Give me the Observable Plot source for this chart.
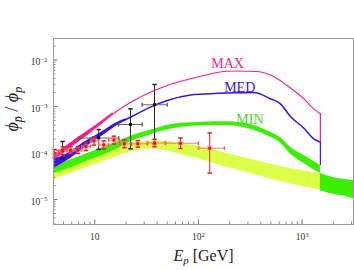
<!DOCTYPE html>
<html><head><meta charset="utf-8">
<script src="https://cdn.jsdelivr.net/npm/d3@7"></script>
<script src="https://cdn.jsdelivr.net/npm/@observablehq/plot@0.6"></script>
<style>body{margin:0;background:#fff;}</style>
</head><body><div id="chart"></div>
<script>
// ---------- data ----------
const cutoffE = 1500;

const maxE = [4.0, 5.83, 7.83, 11.4, 16.4, 23.8, 34.4, 50, 84, 112, 189, 236, 368, 532, 716, 1035, 1294, 1500];
const maxR = [7.6e-5, 1.45e-4, 2.3e-4, 4.3e-4, 8.0e-4, 1.35e-3, 2.03e-3, 2.83e-3, 3.94e-3, 4.65e-3, 5.74e-3, 5.8e-3, 5.66e-3, 4.42e-3, 2.83e-3, 1.47e-3, 8.9e-4, 7.0e-4];
const maxBandE = [4.0, 5.83, 7.83, 11.4, 15.0];
const maxBandLo = [6.6e-5, 1.28e-4, 2.05e-4, 3.95e-4, 6.7e-4];
const maxBandHi = [8.8e-5, 1.64e-4, 2.58e-4, 4.65e-4, 7.3e-4];

const medE = [4.0, 5.83, 7.83, 11.4, 16.4, 23.8, 34.4, 50, 84, 112, 236, 341, 494, 618, 771, 1035, 1294, 1500];
const medR = [5.8e-5, 9.0e-5, 1.45e-4, 2.45e-4, 4.2e-4, 6.4e-4, 9.7e-4, 1.35e-3, 1.77e-3, 1.85e-3, 1.97e-3, 2.0e-3, 1.47e-3, 1.14e-3, 6.1e-4, 3.45e-4, 2.02e-4, 1.71e-4];
const medBandE = [4.0, 5.83, 7.83, 11.4, 16.4, 20];
const medBandLo = [4.6e-5, 7.6e-5, 1.25e-4, 2.2e-4, 3.9e-4, 5.1e-4];
const medBandHi = [7.2e-5, 1.05e-4, 1.68e-4, 2.72e-4, 4.55e-4, 5.45e-4];

const minE  = [4.0, 5.83, 7.83, 11.4, 16.4, 24.7, 34.4, 43.2, 67.0, 108.5, 185, 341, 494, 618, 771, 1117, 1500];
const minHi = [5.4e-5, 7.06e-5, 9.06e-5, 1.25e-4, 1.73e-4, 2.5e-4, 3.1e-4, 3.6e-4, 4.35e-4, 4.6e-4, 4.7e-4, 3.9e-4, 2.8e-4, 2.15e-4, 1.33e-4, 8.1e-5, 5.4e-5];
const minLo = [3.62e-5, 4.75e-5, 6.25e-5, 8.6e-5, 1.22e-4, 1.92e-4, 2.45e-4, 2.9e-4, 3.55e-4, 3.85e-4, 3.92e-4, 3.1e-4, 2.2e-4, 1.64e-4, 9.6e-5, 5.4e-5, 3.62e-5];
const minTailE  = [1500, 2173, 2620, 3130];
const minTailHi = [3.62e-5, 2.83e-5, 2.7e-5, 2.56e-5];
const minTailLo = [1.55e-5, 1.25e-5, 1.17e-5, 1.02e-5];

const bgE  = [4.0, 5.83, 7.83, 11.4, 16.4, 24.7, 34.4, 51.4, 67.0, 108.5, 140, 295, 618, 1500];
const bgHi = [4.9e-5, 6.56e-5, 8.0e-5, 1.03e-4, 1.31e-4, 1.68e-4, 1.81e-4, 1.77e-4, 1.6e-4, 1.35e-4, 1.16e-4, 7.6e-5, 5.13e-5, 3.62e-5];
const bgLo = [2.69e-5, 3.62e-5, 4.65e-5, 6.25e-5, 8.4e-5, 1.13e-4, 1.22e-4, 1.1e-4, 9.3e-5, 7.24e-5, 5.94e-5, 3.81e-5, 2.44e-5, 1.6e-5];

const redE  = [4.09, 4.91, 5.83, 6.89, 8.22, 9.83, 12.2, 15.3, 19.3, 26.0, 37.7, 67.0, 128.5];
const redR  = [9.8e-5, 1.11e-4, 1.14e-4, 1.16e-4, 1.38e-4, 1.81e-4, 1.49e-4, 1.9e-4, 1.58e-4, 1.58e-4, 1.64e-4, 1.62e-4, 1.27e-4];
const redLo = [8.0e-5, 9.1e-5, 9.6e-5, 9.8e-5, 1.13e-4, 1.48e-4, 1.22e-4, 1.56e-4, 1.3e-4, 1.34e-4, 1.36e-4, 1.25e-4, 3.7e-5];
const redHi = [1.19e-4, 1.35e-4, 1.35e-4, 1.38e-4, 1.68e-4, 2.2e-4, 1.82e-4, 2.3e-4, 1.93e-4, 1.86e-4, 1.98e-4, 2.1e-4, 2.7e-4];
const redE1 = [3.7, 4.5, 5.4, 6.3, 7.5, 9.1, 10.9, 13.6, 17.3, 22.6, 32.2, 48, 100];
const redE2 = [4.4, 5.35, 6.3, 7.5, 9.1, 10.9, 13.6, 17.3, 22.6, 32.2, 48, 100, 178];

const blkE  = [4.9, 10.9, 22.1, 37.7];
const blkR  = [1.15e-4, 2.1e-4, 4.1e-4, 1.09e-3];
const blkLo = [7.5e-5, 1.2e-4, 1.23e-4, 1.58e-4];
const blkHi = [1.77e-4, 3.2e-4, 8.9e-4, 2.97e-3];
const blkE1 = [3.6, 7.0, 17.0, 28.7];
const blkE2 = [5.9, 17.0, 28.7, 49.9];

const labelNames = ["MAX", "MED", "MIN"];
const labelE = [191, 250, 314];
const labelR = [8.4e-3, 2.6e-3, 5.25e-4];

const xMajor = [10, 100, 1000];
const xMinor = [5,6,7,8,9,20,30,40,50,60,70,80,90,200,300,400,500,600,700,800,900,2000,3000];
const yMajor = [1e-5, 1e-4, 1e-3, 1e-2];
const yMinor = [3e-6,4e-6,5e-6,6e-6,7e-6,8e-6,9e-6,2e-5,3e-5,4e-5,5e-5,6e-5,7e-5,8e-5,9e-5,2e-4,3e-4,4e-4,5e-4,6e-4,7e-4,8e-4,9e-4,2e-3,3e-3,4e-3,5e-3,6e-3,7e-3,8e-3,9e-3,2e-2];

// ---------- tables ----------
const rows = (xs, f) => xs.map((e, i) => f(e, i));
const maxLine = rows(maxE, (e, i) => ({e, r: maxR[i]}));
const maxBand = rows(maxBandE, (e, i) => ({e, lo: maxBandLo[i], hi: maxBandHi[i]}));
const medLine = rows(medE, (e, i) => ({e, r: medR[i]}));
const medBand = rows(medBandE, (e, i) => ({e, lo: medBandLo[i], hi: medBandHi[i]}));
const minBand = rows(minE, (e, i) => ({e, lo: minLo[i], hi: minHi[i]}));
const minTail = rows(minTailE, (e, i) => ({e, lo: minTailLo[i], hi: minTailHi[i]}));
const bgBand = rows(bgE, (e, i) => ({e, lo: bgLo[i], hi: bgHi[i]}));
const red = rows(redE, (e, i) => ({e, r: redR[i], lo: redLo[i], hi: redHi[i], e1: redE1[i], e2: redE2[i]}));
const blk = rows(blkE, (e, i) => ({e, r: blkR[i], lo: blkLo[i], hi: blkHi[i], e1: blkE1[i], e2: blkE2[i]}));
const labels = rows(labelNames, (n, i) => ({n, e: labelE[i], r: labelR[i]}));

// ---------- styles ----------
const serif = "Liberation Serif, Times New Roman, serif";
const cMax = "#ff1a8c", cMed = "#3a10f0", cMin = "#38f000", cBg = "#dcff48";
const drops = [
  {e: cutoffE, y1: maxR[maxR.length - 1], y2: medR[medR.length - 1], c: cMax},
  {e: cutoffE, y1: medR[medR.length - 1], y2: minHi[minHi.length - 1], c: cMed}
];
const hCap = {draw(ctx, size) { const w = Math.sqrt(size / Math.PI); ctx.moveTo(-w, 0); ctx.lineTo(w, 0); }};
const vCap = {draw(ctx, size) { const w = Math.sqrt(size / Math.PI); ctx.moveTo(0, -w); ctx.lineTo(0, w); }};
const frameW = 300, frameH = 186;

const chart = Plot.plot({
  width: 354, height: 270,
  marginLeft: 53, marginRight: 1, marginTop: 38, marginBottom: 46,
  style: {background: "#fff", fontFamily: serif},
  x: {type: "log", domain: [4, 3130], label: null},
  y: {type: "log", domain: [2.9e-6, 2.9e-2], label: null},
  marks: [
    Plot.areaY(bgBand, {x: "e", y1: "lo", y2: "hi", fill: cBg, curve: "monotone-x", clip: true}),
    Plot.areaY(minBand, {x: "e", y1: "lo", y2: "hi", fill: cMin, curve: "monotone-x", clip: true}),
    Plot.areaY(minTail, {x: "e", y1: "lo", y2: "hi", fill: cMin, curve: "monotone-x", clip: true}),
    Plot.areaY(maxBand, {x: "e", y1: "lo", y2: "hi", fill: cMax, curve: "monotone-x", clip: true}),
    Plot.line(maxLine, {x: "e", y: "r", stroke: cMax, strokeWidth: 1.1, curve: "monotone-x", clip: true}),
    Plot.areaY(medBand, {x: "e", y1: "lo", y2: "hi", fill: cMed, curve: "monotone-x", clip: true}),
    Plot.line(medLine, {x: "e", y: "r", stroke: cMed, strokeWidth: 1.5, curve: "monotone-x", clip: true}),
    Plot.ruleX(drops, {x: "e", y1: "y1", y2: "y2", stroke: "c", strokeWidth: 1.2}),
    // black data
    Plot.ruleY(blk, {y: "r", x1: "e1", x2: "e2", stroke: "#666", strokeWidth: 1, clip: true}),
    Plot.dot(blk, {x: "e1", y: "r", symbol: vCap, r: 2, stroke: "#666", fill: "none", clip: true}),
    Plot.dot(blk, {x: "e2", y: "r", symbol: vCap, r: 2, stroke: "#666", fill: "none", clip: true}),
    Plot.ruleX(blk, {x: "e", y1: "lo", y2: "hi", stroke: "#222", strokeWidth: 1}),
    Plot.dot(blk, {x: "e", y: "lo", symbol: hCap, r: 2.2, stroke: "#222", fill: "none"}),
    Plot.dot(blk, {x: "e", y: "hi", symbol: hCap, r: 2.2, stroke: "#222", fill: "none"}),
    Plot.dot(blk, {x: "e", y: "r", symbol: "square", r: 1.7, fill: "#000"}),
    // red data
    Plot.ruleY(red, {y: "r", x1: "e1", x2: "e2", stroke: "#f06060", strokeOpacity: 0.8, strokeWidth: 1, clip: true}),
    Plot.dot(red, {x: "e1", y: "r", symbol: vCap, r: 1.8, stroke: "#f06060", fill: "none", clip: true}),
    Plot.dot(red, {x: "e2", y: "r", symbol: vCap, r: 1.8, stroke: "#f06060", fill: "none", clip: true}),
    Plot.ruleX(red, {x: "e", y1: "lo", y2: "hi", stroke: "#e02020", strokeWidth: 1}),
    Plot.dot(red, {x: "e", y: "lo", symbol: hCap, r: 2.2, stroke: "#e02020", fill: "none"}),
    Plot.dot(red, {x: "e", y: "hi", symbol: hCap, r: 2.2, stroke: "#e02020", fill: "none"}),
    Plot.dot(red, {x: "e", y: "r", r: 3.1, fill: "#ff8a8a", fillOpacity: 0.45}),
    Plot.dot(red, {x: "e", y: "r", symbol: "square", r: 1.6, fill: "#ee1111"}),
    // curve labels
    Plot.text(labels, {x: "e", y: "r", text: "n", fill: (d) => ({MAX: cMax, MED: cMed, MIN: "#44e020"})[d.n], fontSize: 14, fontFamily: serif}),
    // ticks (inward)
    Plot.tickY(yMajor, {y: (d) => d, insetRight: frameW - 4.5, stroke: "#777"}),
    Plot.tickY(yMinor, {y: (d) => d, insetRight: frameW - 2.5, stroke: "#888"}),
    Plot.tickX(xMajor, {x: (d) => d, insetTop: frameH - 4.5, stroke: "#777"}),
    Plot.tickX(xMinor, {x: (d) => d, insetTop: frameH - 2.5, stroke: "#888"}),
    Plot.axisY(yMajor, {tickSize: 0, tickPadding: 6, dy: 2, fontSize: 9.5, fill: "#333", fontFamily: serif, label: null,
      tickFormat: (d) => "10^" + Math.round(Math.log10(d))}),
    Plot.axisX(xMajor, {tickSize: 0, tickPadding: 9, fontSize: 9.5, fill: "#333", fontFamily: serif, label: null,
      tickFormat: (d) => d === 10 ? "10" : "10^" + Math.round(Math.log10(d))}),
    Plot.frame({stroke: "#9a9a9a"}),
    Plot.text(["YLABEL"], {frameAnchor: "left", dx: -41, rotate: -90, text: (d) => d, fontSize: 18, fontFamily: serif, fill: "#222"}),
    Plot.text(["XLABEL"], {frameAnchor: "bottom", dy: 36, text: (d) => d, fontSize: 16, fontFamily: serif, fill: "#222"})
  ]
});

// ---------- rich text (superscripts / subscripts) ----------
const NS = "http://www.w3.org/2000/svg";
function span(parent, txt, attrs) {
  const s = document.createElementNS(NS, "tspan");
  for (const k in attrs) s.setAttribute(k, attrs[k]);
  s.textContent = txt;
  parent.appendChild(s);
}
chart.querySelectorAll("text").forEach((t) => {
  const txt = t.textContent;
  const m = txt.match(/^10\^(-?\d+)$/);
  if (m) {
    t.textContent = "";
    span(t, "10", {});
    span(t, m[1].replace("-", "\u2212"), {dy: "-0.5em", "font-size": "6.8"});
  } else if (txt === "YLABEL") {
    t.textContent = "";
    span(t, "\u03d5", {"font-style": "italic"});
    span(t, "p\u0304", {"font-style": "italic", "font-size": "12", dy: "4"});
    span(t, " / ", {dy: "-4"});
    span(t, "\u03d5", {"font-style": "italic"});
    span(t, "p", {"font-style": "italic", "font-size": "12", dy: "4"});
  } else if (txt === "XLABEL") {
    t.textContent = "";
    span(t, "E", {"font-style": "italic"});
    span(t, "p", {"font-style": "italic", "font-size": "11", dy: "3"});
    span(t, " [GeV]", {dy: "-3"});
  }
});

document.getElementById("chart").appendChild(chart);
</script>
</body></html>
